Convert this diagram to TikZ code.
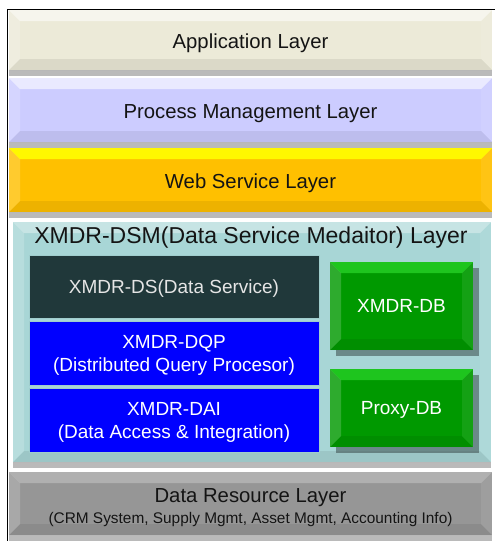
\documentclass[tikz,border=0pt]{standalone}
\usepackage{fontspec}
\setmainfont{Liberation Sans}
\usetikzlibrary{shadows}
\definecolor{appc}{RGB}{236,234,216}
\definecolor{procc}{RGB}{204,204,255}
\definecolor{webc}{RGB}{255,192,0}
\definecolor{webtop}{RGB}{255,255,0}
\definecolor{dsmc}{RGB}{168,214,214}
\definecolor{dsc}{RGB}{32,56,58}
\definecolor{bluec}{RGB}{0,0,255}
\definecolor{greenc}{RGB}{0,153,0}
\definecolor{greentop}{RGB}{0,220,0}
\definecolor{drc}{RGB}{150,150,150}
\definecolor{txtc}{RGB}{20,20,20}
\definecolor{edgec}{RGB}{160,205,205}
\tikzset{
  bevelpic/.style={path picture={
    \fill[#1] (path picture bounding box.north west) -- (path picture bounding box.north east)
      -- ([xshift=-11pt,yshift=-11pt]path picture bounding box.north east)
      -- ([xshift=11pt,yshift=-11pt]path picture bounding box.north west) -- cycle;
    \fill[white,opacity=.18] (path picture bounding box.north west) -- ([xshift=11pt,yshift=-11pt]path picture bounding box.north west)
      -- ([xshift=11pt,yshift=11pt]path picture bounding box.south west) -- (path picture bounding box.south west) -- cycle;
    \fill[white,opacity=.08] (path picture bounding box.north east) -- ([xshift=-11pt,yshift=-11pt]path picture bounding box.north east)
      -- ([xshift=-11pt,yshift=11pt]path picture bounding box.south east) -- (path picture bounding box.south east) -- cycle;
    \fill[black,opacity=.07] (path picture bounding box.south west) -- ([xshift=11pt,yshift=11pt]path picture bounding box.south west)
      -- ([xshift=-11pt,yshift=11pt]path picture bounding box.south east) -- (path picture bounding box.south east) -- cycle;
  }},
  layer/.style={inner sep=0pt, outer sep=0pt, text=txtc, align=center,
    font=\fontsize{20.3}{24}\selectfont, text height=16pt, text depth=0pt,
    drop shadow={shadow xshift=0pt, shadow yshift=-6pt, fill=black!45, opacity=.6}},
  innerbox/.style={inner sep=0pt, outer sep=0pt, align=center, text depth=0pt,
    font=\fontsize{19}{23}\selectfont},
  dbbox/.style={innerbox, fill=greenc, text=white, bevelpic={greentop!80!white,opacity=.6},
    drop shadow={shadow xshift=6pt, shadow yshift=-6pt, fill=black!60!dsmc, opacity=.6}},
}
\begin{document}
\begin{tikzpicture}[x=1pt,y=-1pt]
\useasboundingbox (0,0) rectangle (495,541);
\fill[white] (0,0) rectangle (495,541);
\draw[line width=1pt] (7,541) -- (7,9) -- (495,9);

\node[layer, fill=appc, minimum width=483pt, minimum height=60pt, bevelpic={white,opacity=.55}] (app) at (250.5,40) {Application Layer};
\node[layer, fill=procc, minimum width=483pt, minimum height=64pt, bevelpic={white,opacity=.6}] (proc) at (250.5,110) {Process Management Layer};
\node[layer, fill=webc, minimum width=483pt, minimum height=64pt, bevelpic={webtop,opacity=.9}] (web) at (250.5,180) {Web Service Layer};
\node[layer, fill=dsmc, minimum width=478pt, minimum height=240pt, bevelpic={white,opacity=.35}] (dsm) at (252,342) {};
\node[inner sep=0pt, text=txtc, font=\fontsize{23}{26}\selectfont] (dsmt) at (251,238) {XMDR-DSM(Data Service Medaitor) Layer};

\node[innerbox, fill=dsc, draw=edgec, line width=0.8pt, text=white!90!black, minimum width=290pt, minimum height=63pt] (ds) at (174,286.5) {XMDR-DS(Data Service)};
\node[innerbox, fill=bluec, draw=edgec, line width=0.8pt, text=white, minimum width=290pt, minimum height=64pt] (dqp) at (174,353) {XMDR-DQP\\(Distributed Query Procesor)};
\node[innerbox, fill=bluec, draw=edgec, line width=0.8pt, text=white, minimum width=290pt, minimum height=64pt] (dai) at (174,420) {XMDR-DAI\\(Data Access \& Integration)};

\node[dbbox, minimum width=143pt, minimum height=88pt] (xdb) at (401.5,306) {XMDR-DB};
\node[dbbox, minimum width=143pt, minimum height=78pt] (pdb) at (401.5,408) {Proxy-DB};

\node[layer, fill=drc, minimum width=483pt, minimum height=63pt, bevelpic={white,opacity=.25}] (dr) at (250.5,503.5) {};
\node[inner sep=0pt, text=txtc, align=center, font=\fontsize{20.3}{24}\selectfont] (drt) at (250.5,508)
  {Data Resource Layer\\[-3pt]{\fontsize{15.4}{18}\selectfont (CRM System, Supply Mgmt, Asset Mgmt, Accounting Info)}};
\end{tikzpicture}
\end{document}
